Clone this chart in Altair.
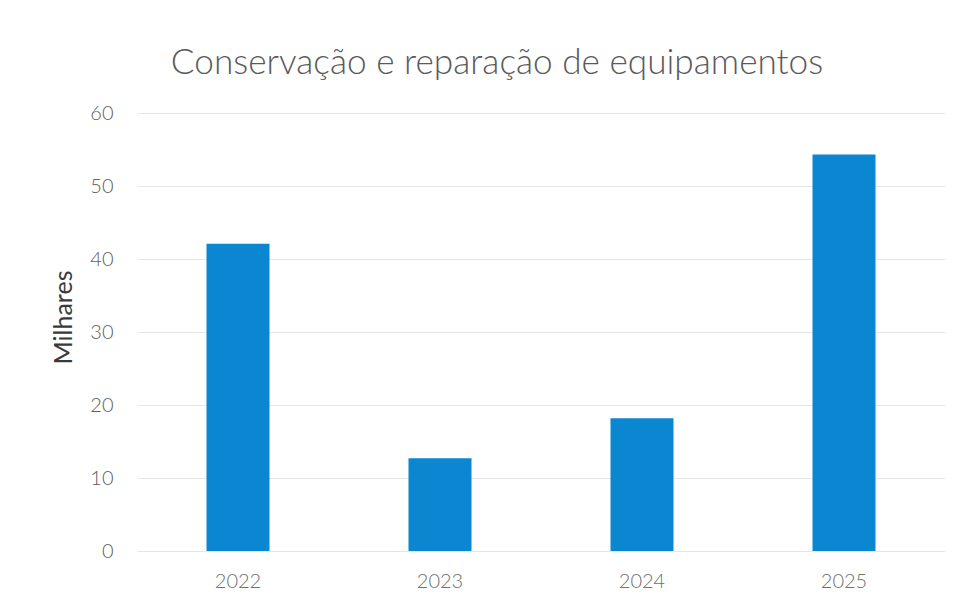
import altair as alt
import pandas as pd

years = ["2022", "2023", "2024", "2025"]
values = [42.1, 12.7, 18.2, 54.3]
y_ticks = [0, 10, 20, 30, 40, 50, 60]

df = pd.DataFrame({"ano": years, "valor": values})

FONT = "Lato"

chart = (
    alt.Chart(df)
    .mark_bar(color="#0B86D1", width=63)
    .encode(
        x=alt.X(
            "ano:N",
            title=None,
            sort=years,
            scale=alt.Scale(paddingInner=0, paddingOuter=0),
            axis=alt.Axis(
                labelAngle=0,
                labelFontSize=20,
                labelFontWeight=300,
                labelColor="#707070",
                labelFont=FONT,
                labelPadding=20,
                ticks=False,
                domain=False,
                grid=False,
            ),
        ),
        y=alt.Y(
            "valor:Q",
            title="Milhares",
            scale=alt.Scale(domain=[0, 60], nice=False),
            axis=alt.Axis(
                values=y_ticks,
                labelFontSize=20,
                labelFontWeight=300,
                labelColor="#606060",
                labelFont=FONT,
                labelPadding=24,
                ticks=False,
                domain=False,
                gridColor="#e6e6e6",
                gridWidth=1.2,
                titleFont=FONT,
                titleFontSize=25,
                titleFontWeight="normal",
                titleColor="#3a3a3a",
                titlePadding=13,
                titleY=204,
            ),
        ),
    )
    .properties(
        width=808,
        height=438,
        title=alt.TitleParams(
            "Conservação e reparação de equipamentos",
            font=FONT,
            fontSize=35.2,
            fontWeight=300,
            color="#5a5a5a",
            anchor="middle",
            dx=-44,
            offset=22,
        ),
        autosize=alt.AutoSizeParams(type="none"),
        padding={"left": 129, "top": 105, "right": 7, "bottom": 48},
    )
    .configure(background="white")
    .configure_view(strokeWidth=0, stroke=None)
)

chart.save("out.html", embed_options={"renderer": "svg", "actions": False})
